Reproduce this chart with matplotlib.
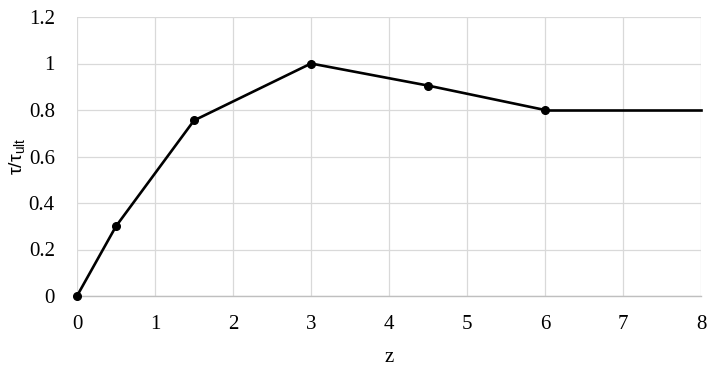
import matplotlib
matplotlib.use("Agg")
import matplotlib.pyplot as plt

# curve data
z_pts = [0, 0.5, 1.5, 3, 4.5, 6]
tau_pts = [0, 0.3, 0.755, 1.0, 0.905, 0.8]
z_tail = [6, 8]
tau_tail = [0.8, 0.8]

x_ticks = [0, 1, 2, 3, 4, 5, 6, 7, 8]
y_ticks = [0, 0.2, 0.4, 0.6, 0.8, 1, 1.2]
y_tick_labels = ["0", "0.2", "0.4", "0.6", "0.8", "1", "1.2"]

plt.rcParams['font.family'] = ['Liberation Serif', 'DejaVu Serif']

fig = plt.figure(figsize=(7.23, 3.69), dpi=100)
ax = fig.add_axes([77 / 723, 1 - 296 / 369, 624 / 723, 279 / 369])

ax.plot(z_pts, tau_pts, color='black', lw=1.9, marker='o', ms=5.5, zorder=3, clip_on=False)
ax.plot(z_tail, tau_tail, color='black', lw=1.9, zorder=3, clip_on=False)

ax.set_xlim(0, 8)
ax.set_ylim(0, 1.2)
ax.set_xticks(x_ticks)
ax.set_yticks(y_ticks)
ax.set_yticklabels(y_tick_labels)
ax.grid(True, color='#d9d9d9', lw=0.9)
ax.set_axisbelow(True)

for side in ['top', 'right', 'left']:
    ax.spines[side].set_visible(False)
ax.spines['bottom'].set_color('#bfbfbf')
ax.spines['bottom'].set_linewidth(1.0)
ax.tick_params(length=0, labelsize=15)
ax.tick_params(axis='x', pad=14)
ax.tick_params(axis='y', pad=16)

ax.set_xlabel('z', fontsize=15, labelpad=10)
ax.set_ylabel(r'τ/τ$_{\mathregular{ult}}$', fontsize=14, family=['Liberation Sans', 'DejaVu Sans'])
ax.yaxis.set_label_coords(-0.078, 0.5)

fig.savefig('out.png', dpi=100)
